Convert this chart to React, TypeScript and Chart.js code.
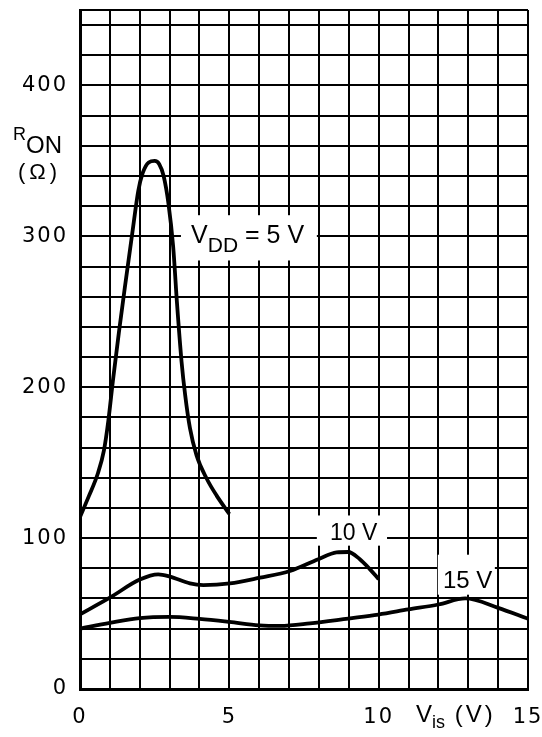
import React, { useEffect, useRef } from 'react';
import { Chart, registerables } from 'chart.js';

Chart.register(...registerables);

// ---- Data ----
const vis5V = [0, 0.3, 0.6, 0.8, 0.95, 1.1, 1.3, 1.5, 1.75, 1.95, 2.1, 2.3, 2.5, 2.65, 2.8, 2.96, 3.12, 3.25, 3.4, 3.52, 3.68, 3.9, 4.24, 4.58, 5.0];
const ron5V = [114, 128, 143, 158, 178, 204, 236, 266, 302, 330, 342, 349, 350, 348, 340, 322, 293, 255, 217, 195, 173, 155, 139.5, 128, 116];

const vis10V = [0, 1, 2, 2.62, 3.01, 3.68, 4.13, 5.02, 6.03, 7.03, 7.98, 8.59, 8.98, 9.37, 9.71, 10];
const ron10V = [49.5, 60.5, 72.5, 76, 74.5, 70, 68.9, 70, 73.8, 78.2, 86, 90.5, 90.8, 86, 79.3, 72.8];

const vis15V = [0, 1, 2, 3, 4, 5, 6, 6.7, 7.7, 8.98, 9.99, 10.99, 12, 12.9, 14, 15];
const ron15V = [40, 43.8, 47, 47.8, 46.5, 44.5, 42.2, 41.8, 43.5, 46.7, 49.3, 52.7, 56, 60, 53.8, 46.5];

const xTickLabels = [0, 5, 10, 15];
const yTickLabels = [0, 100, 200, 300, 400];
const X_MIN = 0, X_MAX = 15, X_STEP = 1;
const Y_MIN = 0, Y_MAX = 450, Y_STEP = 20;

const toPoints = (xs: number[], ys: number[]) => xs.map((x, i) => ({ x, y: ys[i] }));

// ---- Annotation layout (data units for in-plot labels) ----
type Run = { t: string; size: number; dy?: number; ls?: number };
const inPlotLabels: { x: number; y: number; box: [number, number, number, number]; runs: Run[] }[] = [
  {
    x: 3.72, y: 295.6, box: [3.38, 7.93, 284, 314],
    runs: [
      { t: 'V', size: 25 },
      { t: 'DD', size: 21, dy: 9 },
      { t: ' = 5 V', size: 25 },
    ],
  },
  { x: 8.37, y: 98.9, box: [7.93, 10.28, 95, 115], runs: [{ t: '10 V', size: 23 }] },
  { x: 12.15, y: 67.1, box: [11.98, 13.89, 62.5, 89], runs: [{ t: '15 V', size: 24 }] },
];

const FONT = '"Liberation Sans", Arial, sans-serif';

function drawRuns(ctx: CanvasRenderingContext2D, x: number, y: number, runs: Run[]) {
  let cx = x;
  for (const r of runs) {
    ctx.font = `${r.size}px ${FONT}`;
    (ctx as any).letterSpacing = `${r.ls ?? 0}px`;
    ctx.fillText(r.t, cx, y + (r.dy ?? 0));
    cx += ctx.measureText(r.t).width;
  }
  (ctx as any).letterSpacing = '0px';
}

const spacingPlugin = {
  id: 'tickSpacing',
  beforeDraw(chart: any) {
    (chart.ctx as any).letterSpacing = '2px';
  },
  beforeDatasetsDraw(chart: any) {
    (chart.ctx as any).letterSpacing = '0px';
  },
};

const labelPlugin = {
  id: 'labels',
  beforeDatasetsDraw(chart: any) {
    const { ctx, scales } = chart;
    const xs = scales.x, ys = scales.y;
    ctx.save();
    (ctx as any).letterSpacing = '0px';
    for (const l of inPlotLabels) {
      const [bx0, bx1, by0, by1] = l.box;
      const px0 = xs.getPixelForValue(bx0), px1 = xs.getPixelForValue(bx1);
      const py0 = ys.getPixelForValue(by1), py1 = ys.getPixelForValue(by0);
      ctx.fillStyle = '#fff';
      ctx.fillRect(px0, py0, px1 - px0, py1 - py0);
    }
    ctx.fillStyle = '#000';
    ctx.textBaseline = 'alphabetic';
    ctx.textAlign = 'left';
    for (const l of inPlotLabels) {
      drawRuns(ctx, xs.getPixelForValue(l.x), ys.getPixelForValue(l.y), l.runs);
    }
    // axis titles
    const left = chart.chartArea.left;
    const bottom = chart.chartArea.bottom;
    drawRuns(ctx, left - 67, 140, [{ t: 'R', size: 18 }, { t: 'ON', size: 24, dy: 13 }]);
    drawRuns(ctx, left - 62, 179, [{ t: '(Ω)', size: 22, ls: 4 }]);
    drawRuns(ctx, xs.getPixelForValue(11.25), bottom + 33, [
      { t: 'V', size: 24 },
      { t: 'is', size: 18, dy: 6 },
      { t: ' (V)', size: 24, ls: 3 },
    ]);
    ctx.restore();
  },
};

const zeroPad = (s: any) => {
  s.paddingLeft = 0;
  s.paddingRight = 0;
  s.paddingTop = 0;
  s.paddingBottom = 0;
};

export default function App() {
  const ref = useRef<HTMLCanvasElement | null>(null);

  useEffect(() => {
    if (!ref.current) return;
    const tickFont = { family: '"DejaVu Sans", sans-serif', size: 21 };
    const chart = new Chart(ref.current, {
      type: 'line',
      data: {
        datasets: [
          { data: toPoints(vis5V, ron5V) },
          { data: toPoints(vis10V, ron10V) },
          { data: toPoints(vis15V, ron15V) },
        ],
      },
      options: {
        animation: false,
        responsive: false,
        devicePixelRatio: 1,
        layout: { padding: { top: 10, right: 14, left: 0, bottom: 0 } },
        plugins: { legend: { display: false }, tooltip: { enabled: false } },
        elements: {
          point: { radius: 0 },
          line: { borderWidth: 3.8, borderColor: '#000', cubicInterpolationMode: 'monotone', fill: false },
        },
        scales: {
          x: {
            type: 'linear',
            min: X_MIN,
            max: X_MAX,
            afterFit: (s: any) => { s.height = 48; zeroPad(s); },
            afterBuildTicks: (s: any) => {
              const t = [];
              for (let v = X_MIN; v <= X_MAX; v += X_STEP) t.push({ value: v });
              s.ticks = t;
            },
            ticks: {
              autoSkip: false,
              maxRotation: 0,
              padding: 16,
              color: '#000',
              font: tickFont,
              callback: (v: any) => (xTickLabels.includes(Number(v)) ? String(v) : ''),
            },
            grid: { color: '#000', lineWidth: 2, drawTicks: false },
            border: { color: '#000', width: 3 },
          },
          y: {
            type: 'linear',
            min: Y_MIN,
            max: Y_MAX,
            afterFit: (s: any) => { s.width = 80; zeroPad(s); },
            afterBuildTicks: (s: any) => {
              const t = [];
              for (let v = Y_MIN; v < Y_MAX; v += Y_STEP) t.push({ value: v });
              t.push({ value: Y_MAX });
              s.ticks = t;
            },
            ticks: {
              autoSkip: false,
              padding: 12,
              color: '#000',
              font: tickFont,
              callback: (v: any) => (yTickLabels.includes(Number(v)) ? String(v) : ''),
            },
            grid: { color: '#000', lineWidth: 2, drawTicks: false },
            border: { color: '#000', width: 3 },
          },
        },
      },
      plugins: [spacingPlugin, labelPlugin],
    });
    return () => chart.destroy();
  }, []);

  return (
    <div style={{ position: 'fixed', left: 0, top: 0, width: 542, height: 737, background: '#fff' }}>
      <canvas ref={ref} width={542} height={737} style={{ display: 'block' }} />
    </div>
  );
}
